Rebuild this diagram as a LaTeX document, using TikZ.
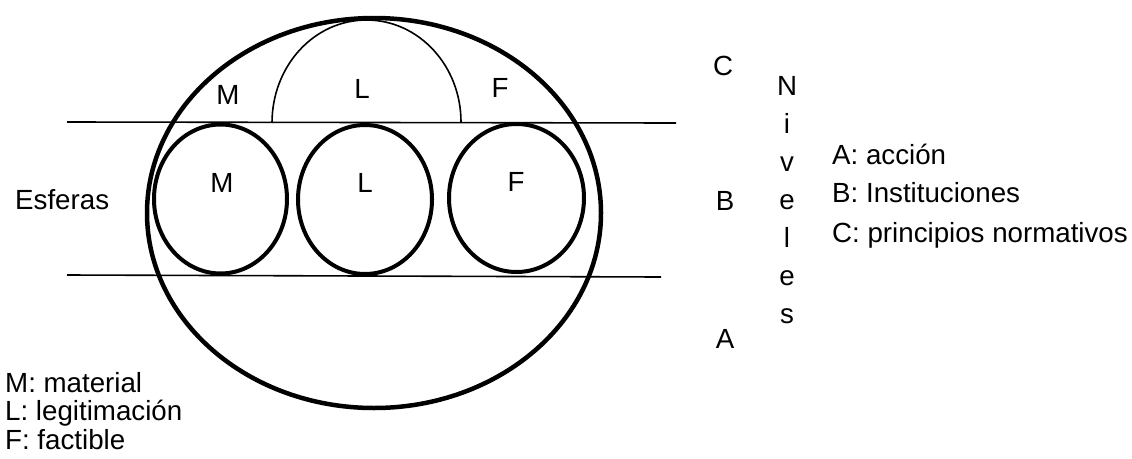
\documentclass[tikz,border=0pt]{standalone}
\usepackage{fontspec}
\setmainfont{Liberation Sans}
\usepackage{tikz}
\usetikzlibrary{positioning}

\begin{document}
\begin{tikzpicture}[
  x=1pt,y=-1pt,
  every node/.style={font=\fontsize{27.7}{32}\selectfont,inner sep=0pt},
  ring/.style={line width=4.5pt},
  sphere/.style={line width=4pt},
  rule/.style={line width=1.6pt},
  tag/.style={anchor=base west}
]
\useasboundingbox (0,0) rectangle (1132,458);
% outer ellipse, the three spheres and the two level lines
\draw[ring] (374,213) ellipse [x radius=227pt,y radius=195pt];
\draw[rule] (67,122) -- (676,123);
\draw[rule] (67,275) -- (661,277);
\draw[sphere] (220.5,199) ellipse [x radius=66.5pt,y radius=74.5pt];
\draw[sphere] (365,199.5) ellipse [x radius=67pt,y radius=74.5pt];
\draw[sphere] (516.5,198) ellipse [x radius=67.5pt,y radius=74pt];
\draw[rule] (272,123) .. controls (272,66) and (314,20) .. (366.5,20)
  .. controls (419,20) and (461,66) .. (461,122);
% letters
\node (mtop) at (228,95) {M};
\node (ltop) at (362,89) {L};
\node (ftop) at (500,88) {F};
\node (mmid) at (222,183) {M};
\node (lmid) at (365,183) {L};
\node (fmid) at (516,182) {F};
\node[tag] (esferas) at (15,209) {Esferas};
\node (lvc) at (723,66) {C};
\node (lvb) at (725,201) {B};
\node (lva) at (725,339) {A};
\foreach \c [count=\i] in {N,i,v,e,l,e,s}
  \node[anchor=base] (niv\i) at (787,{95+38*(\i-1)}) {\c};
% legends
\node[tag] (leya) at (832,164) {A: acción};
\node[tag] (leyb) at (832,202) {B: Instituciones};
\node[tag] (leyc) at (832,242) {C: principios normativos};
\node[tag] (leym) at (5,392) {M: material};
\node[tag] (leyl) at (5,420) {L: legitimación};
\node[tag] (leyf) at (5,449) {F: factible};
\end{tikzpicture}
\end{document}
